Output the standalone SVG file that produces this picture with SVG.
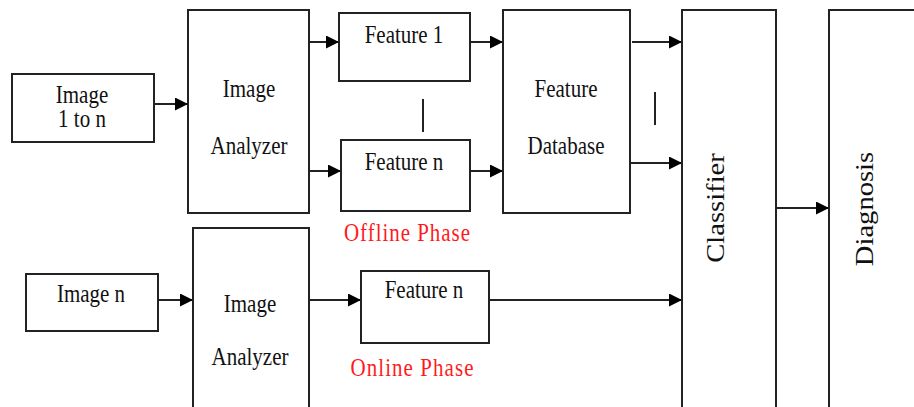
<svg xmlns="http://www.w3.org/2000/svg" width="914" height="407" viewBox="0 0 914 407">
<defs>
<marker id="ah" viewBox="0 0 10 10" refX="10" refY="5" markerWidth="14" markerHeight="13" markerUnits="userSpaceOnUse" orient="auto">
<path d="M0,0 L10,5 L0,10 z" fill="#000"/>
</marker>
<style>
rect{fill:#fff;stroke:#222;stroke-width:2}
text{font-family:"Liberation Serif","Times New Roman",serif;font-size:21px;fill:#111;text-anchor:middle}
text.big{font-size:26px}
.red{fill:#ff1a1a}
.c line{stroke:#222;stroke-width:2}
.c .a{marker-end:url(#ah)}
</style>
</defs>
<rect x="0" y="0" width="914" height="407" style="fill:#fff;stroke:none"/>
<g class="c" id="connectors">
<line class="a" x1="152" y1="104" x2="188" y2="104"/>
<line class="a" x1="309" y1="42" x2="339" y2="42"/>
<line class="a" x1="309" y1="171" x2="341" y2="171"/>
<line class="a" x1="470" y1="42" x2="503" y2="42"/>
<line class="a" x1="470" y1="171" x2="503" y2="171"/>
<line class="a" x1="632" y1="42" x2="682" y2="42"/>
<line class="a" x1="630" y1="163" x2="682" y2="163"/>
<line class="a" x1="776" y1="208" x2="829" y2="208"/>
<line class="a" x1="155" y1="300" x2="193" y2="300"/>
<line class="a" x1="309" y1="300" x2="361" y2="300"/>
<line class="a" x1="489" y1="300" x2="682" y2="300"/>
<line x1="423" y1="99" x2="423" y2="132"/>
<line x1="655" y1="92" x2="655" y2="125"/>
</g>
<g id="image1ton">
<rect x="12" y="74" width="142" height="68"/>
<text transform="translate(82,103) scale(1,1.15)">Image</text>
<text transform="translate(82,127) scale(1,1.15)">1 to n</text>
</g>
<g id="analyzer1">
<rect x="188" y="10" width="121" height="203"/>
<text transform="translate(249,97) scale(1,1.15)">Image</text>
<text transform="translate(249,154) scale(1,1.15)">Analyzer</text>
</g>
<g id="feature1">
<rect x="339" y="13" width="131" height="68"/>
<text transform="translate(404,43) scale(1,1.15)">Feature 1</text>
</g>
<g id="featureNoff">
<rect x="341" y="140" width="129" height="71"/>
<text transform="translate(404,170) scale(1,1.15)">Feature n</text>
</g>
<g id="featureDb">
<rect x="503" y="10" width="127" height="203"/>
<text transform="translate(566,97) scale(1,1.15)">Feature</text>
<text transform="translate(566,154) scale(1,1.15)">Database</text>
</g>
<g id="offlineLabel">
<text class="red" transform="translate(407,241) scale(1,1.15)" textLength="126" lengthAdjust="spacing">Offline Phase</text>
</g>
<g id="classifier">
<rect x="682" y="10" width="94" height="420"/>
<text class="big" transform="translate(724,208) rotate(-90) scale(1.1,1)">Classifier</text>
</g>
<g id="diagnosis">
<rect x="829" y="10" width="100" height="420"/>
<text class="big" transform="translate(873,209) rotate(-90) scale(1.1,1)">Diagnosis</text>
</g>
<g id="imageN">
<rect x="26" y="274" width="132" height="57"/>
<text transform="translate(91,302) scale(1,1.15)">Image n</text>
</g>
<g id="analyzer2">
<rect x="193" y="228" width="116" height="200"/>
<text transform="translate(250,312) scale(1,1.15)">Image</text>
<text transform="translate(250,365) scale(1,1.15)">Analyzer</text>
</g>
<g id="featureNon">
<rect x="361" y="271" width="128" height="72"/>
<text transform="translate(424,298) scale(1,1.15)">Feature n</text>
</g>
<g id="onlineLabel">
<text class="red" transform="translate(412,376) scale(1,1.15)" textLength="123" lengthAdjust="spacing">Online Phase</text>
</g>
</svg>
